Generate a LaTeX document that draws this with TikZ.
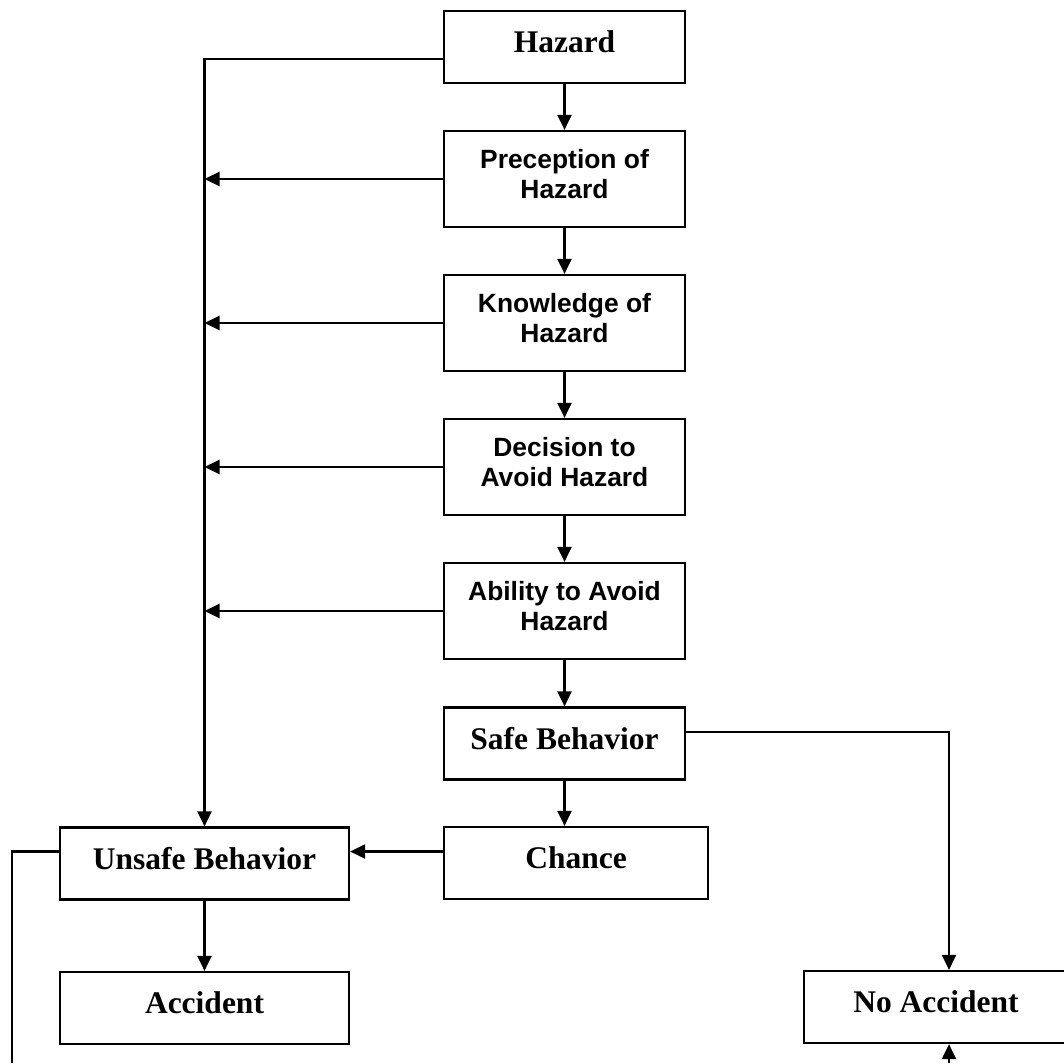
\documentclass[tikz,border=0pt]{standalone}
\usepackage{fontspec}
\setmainfont{Liberation Serif}
\newfontfamily\arialfont{Liberation Sans}
\usetikzlibrary{arrows.meta}
\tikzset{
  box/.style={draw, line width=2.2pt, rectangle, inner sep=0pt, minimum height=#1},
  box/.default=72pt,
  serif/.style={font=\fontsize{31.5}{36}\selectfont\bfseries, inner sep=0pt, yshift=5pt},
  sans/.style={font=\arialfont\fontsize{26.4}{30.5}\selectfont\bfseries, inner sep=0pt, align=center, yshift=5pt},
  conn/.style={line width=2.2pt},
  arr/.style={conn, -{Triangle[length=15pt,width=14pt]}},
}
\begin{document}
\begin{tikzpicture}[x=1pt,y=-1pt]
\useasboundingbox (0,0) rectangle (1064,1063);
\clip (0,0) rectangle (1064,1063);
% boxes
\node[box, minimum width=241pt] (haz) at (564.5,47) {};
\node[box=96pt, minimum width=241pt] (per) at (564.5,179) {};
\node[box=96pt, minimum width=241pt] (kno) at (564.5,323) {};
\node[box=96pt, minimum width=241pt] (dec) at (564.5,467) {};
\node[box=96pt, minimum width=241pt] (abi) at (564.5,611) {};
\node[box, minimum width=241pt] (safe) at (564.5,743.5) {};
\node[box, minimum width=264pt] (cha) at (576,863) {};
\node[box, minimum width=289pt] (uns) at (204.5,863.5) {};
\node[box, minimum width=289pt] (acc) at (204.5,1008) {};
\node[box, minimum width=264pt] (noacc) at (936,1007) {};
% texts
\node[serif] (haz-t) at (haz.center) {Hazard};
\node[sans] (per-t) at (per.center) {Preception of\\Hazard};
\node[sans] (kno-t) at (kno.center) {Knowledge of\\Hazard};
\node[sans] (dec-t) at (dec.center) {Decision to\\Avoid Hazard};
\node[sans] (abi-t) at (abi.center) {Ability to Avoid\\Hazard};
\node[serif] (safe-t) at (safe.center) {Safe Behavior};
\node[serif] (cha-t) at (cha.center) {Chance};
\node[serif] (uns-t) at (uns.center) {Unsafe Behavior};
\node[serif] (acc-t) at (acc.center) {Accident};
\node[serif] (noacc-t) at (noacc.center) {No Accident};
% free ends
\coordinate (leftend) at (12,1063);
\coordinate (rightstart) at (949,1063);
% main chain
\draw[arr] (haz) -- (per);
\draw[arr] (per) -- (kno);
\draw[arr] (kno) -- (dec);
\draw[arr] (dec) -- (abi);
\draw[arr] (abi) -- (safe);
\draw[arr] (safe.south) -- (safe.south |- cha.north);
\draw[arr] (uns) -- (acc);
% left collector line
\draw[arr] ([yshift=-12pt]haz.west) -| (uns.north);
\draw[arr] (per.west) -- (per.west -| uns.north);
\draw[arr] (kno.west) -- (kno.west -| uns.north);
\draw[arr] (dec.west) -- (dec.west -| uns.north);
\draw[arr] (abi.west) -- (abi.west -| uns.north);
% chance to unsafe
\draw[arr] ([yshift=11.5pt]cha.west) -- ([yshift=12pt]uns.east);
% safe to no accident
\draw[arr] ([yshift=11.5pt]safe.east) -| (rightstart |- noacc.north);
% unsafe to off-page
\draw[conn] ([yshift=12pt]uns.west) -| (leftend);
% incoming from below into no accident
\draw[arr] (rightstart) -- (rightstart |- noacc.south);
\end{tikzpicture}
\end{document}
